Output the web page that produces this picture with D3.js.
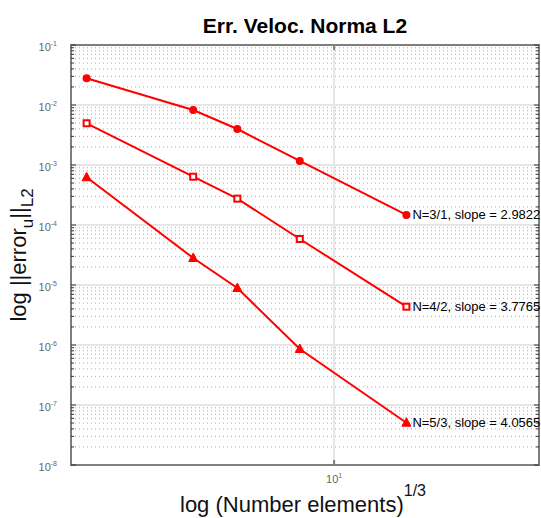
<!DOCTYPE html>
<html>
<head>
<meta charset="utf-8">
<script src="https://cdn.jsdelivr.net/npm/d3@7"></script>
<style>
  body { margin: 0; background: #fff; }
  svg { font-family: "Liberation Sans", Arial, Helvetica, sans-serif; }
</style>
</head>
<body>
<svg width="541" height="518"></svg>
<script>
// data
var xValues = [2, 4, 5.33, 8, 16];
var errN31 = [2.79e-2, 8.25e-3, 3.98e-3, 1.17e-3, 1.47e-4];
var errN42 = [4.96e-3, 6.38e-4, 2.75e-4, 5.85e-5, 4.35e-6];
var errN53 = [6.24e-4, 2.82e-5, 8.9e-6, 8.58e-7, 5.07e-8];
var seriesLabels = ["N=3/1, slope = 2.9822", "N=4/2, slope = 3.7765", "N=5/3, slope = 4.0565"];
var markers = ["circle", "square", "triangle"];
var yTicks = [1e-1, 1e-2, 1e-3, 1e-4, 1e-5, 1e-6, 1e-7, 1e-8];
var xTicks = [10];

var svg = d3.select("svg"),
    margin = {top: 45, right: 2, bottom: 53, left: 71},
    width = +svg.attr("width") - margin.left - margin.right,
    height = +svg.attr("height") - margin.top - margin.bottom;

var x = d3.scaleLog().domain([1.807, 37.9]).range([0, width]);
var y = d3.scaleLog().domain([1e-8, 1e-1]).range([height, 0]);

var g = svg.append("g").attr("transform", "translate(" + margin.left + "," + margin.top + ")");

// minor grid (dotted) at 2..9 of every decade
var minors = [];
yTicks.slice(1).forEach(function(t) {
    for (var k = 2; k <= 9; k++) minors.push(t * k);
});
g.append("g").selectAll("line").data(minors).enter().append("line")
    .attr("x1", 0).attr("x2", width)
    .attr("y1", function(d) { return y(d); }).attr("y2", function(d) { return y(d); })
    .style("stroke", "#aaa").style("stroke-width", 1).style("stroke-dasharray", "1,3");

// major grid
g.append("g").selectAll("line").data(yTicks).enter().append("line")
    .attr("x1", 0).attr("x2", width)
    .attr("y1", function(d) { return y(d); }).attr("y2", function(d) { return y(d); })
    .style("stroke", "#e6e6e6").style("stroke-width", 2);
g.append("g").selectAll("line").data(xTicks).enter().append("line")
    .attr("x1", function(d) { return x(d); }).attr("x2", function(d) { return x(d); })
    .attr("y1", 0).attr("y2", height)
    .style("stroke", "#e6e6e6").style("stroke-width", 2);

// box and ticks
g.append("rect").attr("width", width).attr("height", height)
    .style("fill", "none").style("stroke", "#7f7f7f").style("stroke-width", 2);

var tickG = g.append("g").style("stroke", "#333").style("stroke-width", 1);
minors.forEach(function(d) {
    tickG.append("line").attr("x1", 0).attr("x2", 3).attr("y1", y(d)).attr("y2", y(d));
    tickG.append("line").attr("x1", width).attr("x2", width - 3).attr("y1", y(d)).attr("y2", y(d));
});
yTicks.forEach(function(d) {
    tickG.append("line").attr("x1", 0).attr("x2", 5).attr("y1", y(d)).attr("y2", y(d));
    tickG.append("line").attr("x1", width).attr("x2", width - 5).attr("y1", y(d)).attr("y2", y(d));
});
xTicks.forEach(function(d) {
    tickG.append("line").attr("x1", x(d)).attr("x2", x(d)).attr("y1", height).attr("y2", height - 5)
        .style("stroke", "#7f7f7f").style("stroke-width", 2);
    tickG.append("line").attr("x1", x(d)).attr("x2", x(d)).attr("y1", 0).attr("y2", 5)
        .style("stroke", "#7f7f7f").style("stroke-width", 2);
});

// tick labels
var yLab = g.append("g").selectAll("text").data(yTicks).enter().append("text")
    .attr("x", -14).attr("y", function(d) { return y(d) + 6; })
    .attr("text-anchor", "end")
    .style("fill", "#666").style("font-size", "11px");
yLab.append("tspan").text("10");
yLab.append("tspan").attr("dy", -5).style("font-size", "7px")
    .text(function(d) { return "-" + Math.round(-Math.log10(d)); });

var xLab = g.append("g").selectAll("text").data(xTicks).enter().append("text")
    .attr("x", function(d) { return x(d); }).attr("y", height + 18)
    .attr("text-anchor", "middle")
    .style("fill", "#666").style("font-size", "11px");
xLab.append("tspan").text("10");
xLab.append("tspan").attr("dy", -5).style("font-size", "7px").text("1");

// series
var series = [errN31, errN42, errN53].map(function(vals, i) {
    return {label: seriesLabels[i], marker: markers[i],
            pts: vals.map(function(v, j) { return {x: xValues[j], y: v}; })};
});

var line = d3.line().x(function(d) { return x(d.x); }).y(function(d) { return y(d.y); });

var sg = g.selectAll(".series").data(series).enter().append("g").attr("class", "series");
sg.append("path").attr("d", function(d) { return line(d.pts); })
    .style("fill", "none").style("stroke", "red").style("stroke-width", 2);

sg.each(function(s) {
    var sel = d3.select(this).selectAll(".pt").data(s.pts).enter();
    if (s.marker == "circle") {
        sel.append("circle").attr("cx", function(d) { return x(d.x); }).attr("cy", function(d) { return y(d.y); })
            .attr("r", 4).style("fill", "red");
    } else if (s.marker == "square") {
        sel.append("rect").attr("x", function(d) { return x(d.x) - 3; }).attr("y", function(d) { return y(d.y) - 3; })
            .attr("width", 6).attr("height", 6)
            .style("fill", "#fff").style("stroke", "red").style("stroke-width", 2);
    } else {
        sel.append("path").attr("transform", function(d) { return "translate(" + x(d.x) + "," + y(d.y) + ")"; })
            .attr("d", "M0,-5L4.5,3.5L-4.5,3.5Z")
            .style("fill", "red").style("stroke", "red").style("stroke-width", 1);
    }
    var last = s.pts[s.pts.length - 1];
    d3.select(this).append("text")
        .attr("x", x(last.x) + 6).attr("y", y(last.y) + 4.5)
        .style("font-size", "13px").style("fill", "#000")
        .text(s.label);
});

// title and axis labels
svg.append("text").attr("x", margin.left + width / 2).attr("y", 33)
    .attr("text-anchor", "middle").style("font-size", "21px").style("font-weight", "bold")
    .text("Err. Veloc. Norma L2");

var xl = svg.append("text").attr("x", margin.left + width / 2 - 2).attr("y", 512)
    .attr("text-anchor", "middle").style("font-size", "22px").style("fill", "#111");
xl.append("tspan").text("log (Number elements)");
xl.append("tspan").attr("dy", -16).style("font-size", "16px").text("1/3");

var yl = svg.append("text").attr("transform", "translate(26," + (margin.top + height / 2) + ") rotate(-90)")
    .attr("text-anchor", "middle").style("font-size", "22px").style("fill", "#111");
yl.append("tspan").text("log ||error");
yl.append("tspan").attr("dy", 7).style("font-size", "17px").text("u");
yl.append("tspan").attr("dy", -7).text("||");
yl.append("tspan").attr("dy", 7).style("font-size", "17px").text("L2");
</script>
</body>
</html>
